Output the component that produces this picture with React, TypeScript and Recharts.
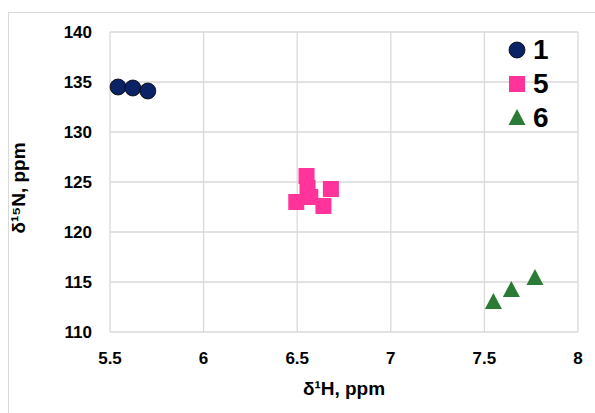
import { ScatterChart, Scatter, XAxis, YAxis, CartesianGrid } from 'recharts';

const compound1 = [
  { h: 5.543, n: 134.5 },
  { h: 5.622, n: 134.4 },
  { h: 5.702, n: 134.1 },
];

const compound5 = [
  { h: 6.55, n: 125.6 },
  { h: 6.555, n: 124.4 },
  { h: 6.495, n: 123.0 },
  { h: 6.57, n: 123.5 },
  { h: 6.64, n: 122.6 },
  { h: 6.68, n: 124.3 },
];

const compound6 = [
  { h: 7.548, n: 113.0 },
  { h: 7.644, n: 114.2 },
  { h: 7.77, n: 115.4 },
];

const xTicks = [5.5, 6, 6.5, 7, 7.5, 8];
const yTicks = [110, 115, 120, 125, 130, 135, 140];

const NAVY = '#0b2264';
const PINK = '#ff3399';
const GREEN = '#2b7a36';
const FONT = '"Liberation Sans", Arial, sans-serif';

const Circle = (p: any) => <circle cx={p.cx} cy={p.cy} r={8} fill={NAVY} stroke="#000" strokeWidth={0.8} />;
const Square = (p: any) => <rect x={p.cx - 8} y={p.cy - 8} width={16} height={16} fill={PINK} />;
const Triangle = (p: any) => (
  <polygon points={`${p.cx},${p.cy - 9} ${p.cx + 8.5},${p.cy + 7} ${p.cx - 8.5},${p.cy + 7}`} fill={GREEN} />
);

const legendItems = [
  { label: '1', icon: <circle cx={10} cy={10} r={8} fill={NAVY} stroke="#000" strokeWidth={0.8} /> },
  { label: '5', icon: <rect x={2} y={2} width={16} height={16} fill={PINK} /> },
  { label: '6', icon: <polygon points="10,1 18.5,17 1.5,17" fill={GREEN} /> },
];

function LegendBox() {
  return (
    <div style={{ position: 'absolute', left: 507, top: 33, fontFamily: FONT }}>
      {legendItems.map((it) => (
        <div key={it.label} style={{ display: 'flex', alignItems: 'center', height: 34 }}>
          <svg width={20} height={20} style={{ marginRight: 6 }}>{it.icon}</svg>
          <span style={{ fontSize: 28, fontWeight: 'bold', color: '#000', lineHeight: 1 }}>{it.label}</span>
        </div>
      ))}
    </div>
  );
}

export default function App() {
  return (
    <div style={{ position: 'fixed', left: 0, top: 0, width: 595, height: 413, background: '#fff' }}>
      <div
        style={{
          position: 'absolute', left: 8, top: 12, width: 600, height: 410,
          borderTop: '1px solid #d9d9d9', borderLeft: '1px solid #d9d9d9',
        }}
      />
      <ScatterChart width={595} height={413} margin={{ top: 32, right: 17, bottom: 0, left: 0 }} style={{ position: 'absolute', left: 0, top: 0 }}>
        <CartesianGrid stroke="#d9d9d9" strokeWidth={1.3} />
        <XAxis
          type="number"
          dataKey="h"
          domain={[5.5, 8]}
          ticks={xTicks}
          axisLine={false}
          tickLine={false}
          tickMargin={14}
          height={81}
          tick={{ fontSize: 17, fontWeight: 'bold', fill: '#000', fontFamily: FONT }}
          label={{ value: 'δ¹H, ppm', position: 'insideBottom', offset: 18, fontSize: 19, fontWeight: 'bold', fill: '#000', fontFamily: FONT }}
        />
        <YAxis
          type="number"
          dataKey="n"
          domain={[110, 140]}
          ticks={yTicks}
          axisLine={false}
          tickLine={false}
          tickMargin={12}
          width={110}
          tick={{ fontSize: 17, fontWeight: 'bold', fill: '#000', fontFamily: FONT }}
          label={{ value: 'δ¹⁵N, ppm', angle: -90, position: 'insideLeft', offset: 18, dy: 6, style: { textAnchor: 'middle' }, fontSize: 19, fontWeight: 'bold', fill: '#000', fontFamily: FONT }}
        />
        <Scatter name="1" data={compound1} shape={Circle} isAnimationActive={false} />
        <Scatter name="5" data={compound5} shape={Square} isAnimationActive={false} />
        <Scatter name="6" data={compound6} shape={Triangle} isAnimationActive={false} />
      </ScatterChart>
      <LegendBox />
    </div>
  );
}
